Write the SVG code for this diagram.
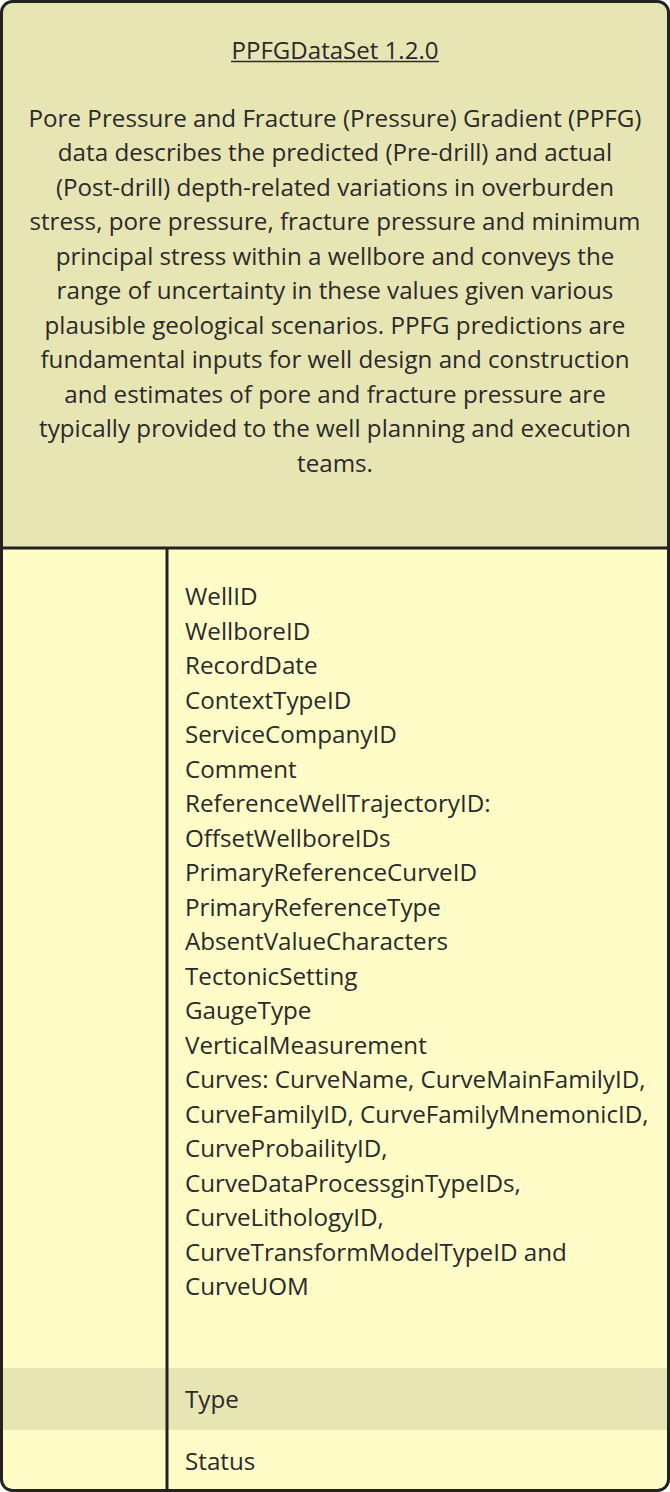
<svg xmlns="http://www.w3.org/2000/svg" width="670" height="1492" viewBox="0 0 670 1492">
<style>
.t{font-family:"Open Sans","Noto Sans",sans-serif;font-size:24.2px;fill:#2a2a2a}
.c{text-anchor:middle}
</style>
<defs>
<clipPath id="clip"><rect x="1.5" y="1.5" width="667" height="1489" rx="11"/></clipPath>
</defs>
<g id="node-ppfg">
<g clip-path="url(#clip)">
<rect x="0" y="0" width="670" height="548" fill="#e8e5b5"/>
<rect x="0" y="548" width="670" height="944" fill="#fffcc8"/>
<rect x="0" y="1368" width="670" height="62" fill="#e8e5b5"/>
</g>
<text class="t c" x="335" y="59" textLength="207" lengthAdjust="spacingAndGlyphs">PPFGDataSet 1.2.0</text>
<line x1="231" y1="61.5" x2="439" y2="61.5" stroke="#2a2a2a" stroke-width="1.3"/>
<g class="t c">
<text x="335" y="126.5">Pore Pressure and Fracture (Pressure) Gradient (PPFG)</text>
<text x="335" y="161">data describes the predicted (Pre-drill) and actual</text>
<text x="335" y="195.5">(Post-drill) depth-related variations in overburden</text>
<text x="335" y="230">stress, pore pressure, fracture pressure and minimum</text>
<text x="335" y="264.5">principal stress within a wellbore and conveys the</text>
<text x="335" y="299">range of uncertainty in these values given various</text>
<text x="335" y="333.5">plausible geological scenarios. PPFG predictions are</text>
<text x="335" y="368">fundamental inputs for well design and construction</text>
<text x="335" y="402.5">and estimates of pore and fracture pressure are</text>
<text x="335" y="437">typically provided to the well planning and execution</text>
<text x="335" y="471.5">teams.</text>
</g>
<g class="t">
<text x="185" y="605">WellID</text>
<text x="185" y="640">WellboreID</text>
<text x="185" y="674">RecordDate</text>
<text x="185" y="709">ContextTypeID</text>
<text x="185" y="743">ServiceCompanyID</text>
<text x="185" y="778">Comment</text>
<text x="185" y="812">ReferenceWellTrajectoryID:</text>
<text x="185" y="847">OffsetWellboreIDs</text>
<text x="185" y="881">PrimaryReferenceCurveID</text>
<text x="185" y="916">PrimaryReferenceType</text>
<text x="185" y="950">AbsentValueCharacters</text>
<text x="185" y="985">TectonicSetting</text>
<text x="185" y="1019">GaugeType</text>
<text x="185" y="1054">VerticalMeasurement</text>
<text x="185" y="1088">Curves: CurveName, CurveMainFamilyID,</text>
<text x="185" y="1123">CurveFamilyID, CurveFamilyMnemonicID,</text>
<text x="185" y="1157">CurveProbailityID,</text>
<text x="185" y="1192">CurveDataProcessginTypeIDs,</text>
<text x="185" y="1226">CurveLithologyID,</text>
<text x="185" y="1261">CurveTransformModelTypeID and</text>
<text x="185" y="1295">CurveUOM</text>
<text x="185" y="1408">Type</text>
<text x="185" y="1470">Status</text>
</g>
<line x1="0" y1="548" x2="670" y2="548" stroke="#222" stroke-width="3"/>
<line x1="167" y1="548" x2="167" y2="1492" stroke="#222" stroke-width="3"/>
<rect x="1.5" y="1.5" width="667" height="1489" rx="11" fill="none" stroke="#222" stroke-width="3"/>
</g>
<g id="connectors"/>
</svg>
